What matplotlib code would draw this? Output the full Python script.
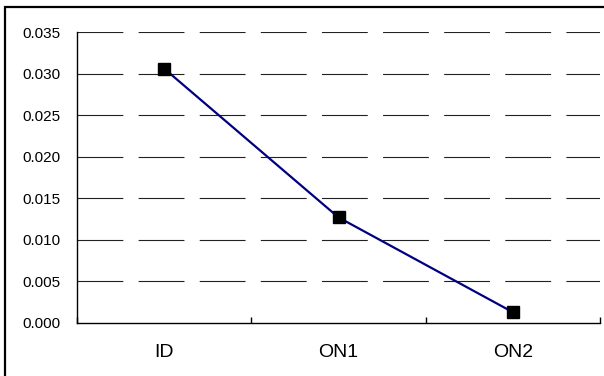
import matplotlib
matplotlib.use('Agg')
import matplotlib.pyplot as plt
from matplotlib.patches import Rectangle
import numpy as np

categories = ['ID', 'ON1', 'ON2']
values = [0.0306, 0.0127, 0.0013]
yticks = [0.000, 0.005, 0.010, 0.015, 0.020, 0.025, 0.030, 0.035]

plt.rcParams['font.family'] = ['Liberation Sans', 'DejaVu Sans']
plt.rcParams['lines.scale_dashes'] = False

fig = plt.figure(figsize=(6.04, 3.76), dpi=100)
ax = fig.add_axes([77 / 604, 1 - 323 / 376, 523 / 604, 291 / 376])

# outer frame (cut off at right and bottom like the original)
fig.patches.append(Rectangle((5 / 604, -0.05), 1.2, 1 - 7 / 376 + 0.05,
                             transform=fig.transFigure, fill=False,
                             edgecolor='black', linewidth=1.6))

x = np.arange(len(categories)) + 0.5
ax.plot(x, values, color='#000080', linewidth=1.6, marker='s',
        markersize=8.5, markerfacecolor='black', markeredgecolor='black', zorder=5)

ax.set_xlim(0, len(categories))
ax.set_ylim(0, 0.035)

for v in yticks[1:]:
    ax.axhline(v, color='#222222', linewidth=0.8, linestyle=(0, (33, 11)), zorder=1)

ax.set_yticks(yticks)
ax.set_yticklabels(['%.3f' % v for v in yticks], fontsize=11)
ax.tick_params(axis='y', length=0, pad=12)

ax.set_xticks(x)
ax.set_xticklabels(categories, fontsize=14)
ax.tick_params(axis='x', which='major', length=0, pad=15)
ax.set_xticks(np.arange(len(categories) + 1), minor=True)
ax.tick_params(axis='x', which='minor', direction='in', length=4, width=1, color='black')

ax.spines['top'].set_visible(False)
ax.spines['right'].set_visible(False)
ax.spines['left'].set_linewidth(1)
ax.spines['bottom'].set_linewidth(1)

fig.savefig('out.png', dpi=100)
